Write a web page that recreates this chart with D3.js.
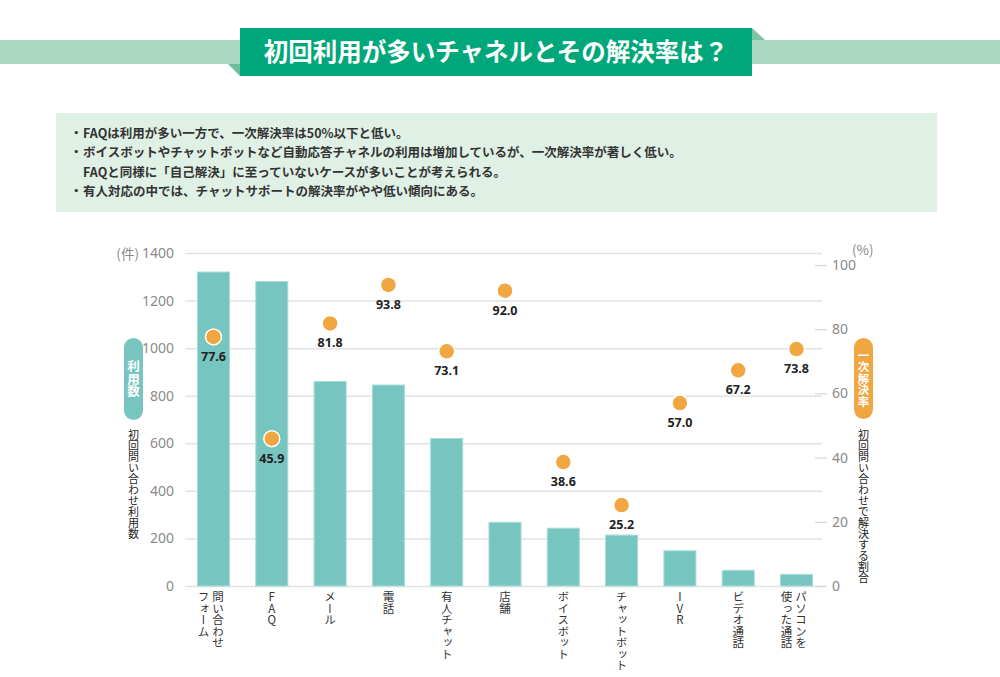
<!DOCTYPE html>
<meta charset="utf-8">
<head>
    <title>初回利用チャネルと解決率</title>
    <script src="https://d3js.org/d3.v7.min.js"></script>
</head>

<style>
body { margin: 0; background: #fff; }
svg { display: block; font-family: "Noto Sans CJK JP", "Noto Sans", sans-serif; }
.tick text { fill: #8a8a8a; font-family: "Noto Sans", sans-serif; font-size: 14px; }
.vtext { writing-mode: vertical-rl; text-orientation: upright; }
</style>

<body>

<svg></svg>

<script>

// data
let categories = ["問い合わせフォーム", "FAQ", "メール", "電話", "有人チャット", "店舗",
                  "ボイスボット", "チャットボット", "IVR", "ビデオ通話", "パソコンを使った通話"];
// x labels, one entry per column (right column first)
let catLabels = [["問い合わせ", "フォーム"], ["FAQ"], ["メール"], ["電話"], ["有人チャット"], ["店舗"],
                 ["ボイスボット"], ["チャットボット"], ["IVR"], ["ビデオ通話"], ["パソコンを", "使った通話"]];
let usage = [1320, 1280, 860, 845, 620, 268, 243, 214, 148, 66, 49];
let solveRate = [77.6, 45.9, 81.8, 93.8, 73.1, 92.0, 38.6, 25.2, 57.0, 67.2, 73.8];
let leftTicks = [0, 200, 400, 600, 800, 1000, 1200, 1400];
let rightTicks = [0, 20, 40, 60, 80, 100];

let title = "初回利用が多いチャネルとその解決率は？";
let notes = [
  ["・", "FAQは利用が多い一方で、一次解決率は50%以下と低い。"],
  ["・", "ボイスボットやチャットボットなど自動応答チャネルの利用は増加しているが、一次解決率が著しく低い。"],
  ["", "FAQと同様に「自己解決」に至っていないケースが多いことが考えられる。"],
  ["・", "有人対応の中では、チャットサポートの解決率がやや低い傾向にある。"]
];

let barColor = "#77c5c0";
let dotColor = "#f0a742";

let width = 1000, height = 677;
let plot = {left: 185, right: 822, top: 253, bottom: 586};

let svg = d3.select("svg")
    .attr("width", width)
    .attr("height", height);

// header ribbon
svg.append("rect")
  .attr("x", 0).attr("y", 40).attr("width", width).attr("height", 24)
  .attr("fill", "#acd8c2");
svg.append("polygon")
  .attr("points", "752,28 765,40 752,40")
  .attr("fill", "#7cc3a2");
svg.append("polygon")
  .attr("points", "228,64 240,76 240,64")
  .attr("fill", "#6fbc98");
svg.append("rect")
  .attr("x", 240).attr("y", 28).attr("width", 512).attr("height", 48)
  .attr("fill", "#00a77a");
svg.append("text")
  .attr("x", 496).attr("y", 61)
  .attr("text-anchor", "middle")
  .attr("fill", "#fff")
  .attr("font-size", 24.5)
  .attr("font-weight", "bold")
  .text(title);

// notes box
svg.append("rect")
  .attr("x", 56).attr("y", 113).attr("width", 881).attr("height", 99)
  .attr("fill", "#dff0e5");

notes.forEach((n, i) => {
  let yy = 137.5 + i * 19.5;
  svg.append("text")
    .attr("x", 70).attr("y", yy)
    .attr("font-size", 12.5).attr("font-weight", "bold").attr("fill", "#333")
    .text(n[0]);
  svg.append("text")
    .attr("x", 83).attr("y", yy)
    .attr("font-size", 12.5).attr("font-weight", "bold").attr("fill", "#333")
    .text(n[1]);
});

// scales
let x = d3.scaleBand()
          .domain(categories)
          .range([184.35, 825.65])
          .paddingInner(0.45)
          .paddingOuter(0.225);

let yL = d3.scaleLinear().domain([0, 1400]).range([plot.bottom, plot.top]);
let yR = d3.scaleLinear().domain([0, 100]).range([plot.bottom, 265]);

// gridlines
let grid = svg.append("g")
  .attr("transform", "translate(" + plot.left + ",0)")
  .call(d3.axisRight(yL).tickValues(leftTicks).tickSize(plot.right - plot.left).tickFormat(""));
grid.select(".domain").remove();
grid.selectAll("line").attr("stroke", "#e2e2e2").attr("stroke-width", 1.5);

// left axis labels
let axL = svg.append("g")
  .attr("transform", "translate(178,0)")
  .call(d3.axisLeft(yL).tickValues(leftTicks).tickSize(0).tickPadding(4).tickFormat(d3.format("d")));
axL.select(".domain").remove();

// right axis
let axR = svg.append("g")
  .attr("transform", "translate(815,0)")
  .call(d3.axisRight(yR).tickValues(rightTicks).tickSize(12).tickPadding(5).tickFormat(d3.format("d")));
axR.select(".domain").remove();
axR.selectAll("line").attr("stroke", "#d6d6d6").attr("stroke-width", 1.2);

// units
svg.append("text")
  .attr("x", 139).attr("y", 259).attr("text-anchor", "end")
  .attr("font-size", 13.5).attr("fill", "#8a8a8a")
  .text("(件)");
svg.append("text")
  .attr("x", 852).attr("y", 255)
  .attr("font-size", 13.5).attr("fill", "#8a8a8a")
  .text("(%)");

// bars
svg.selectAll(".bar")
  .data(usage)
  .enter()
  .append("rect")
  .attr("class", "bar")
  .attr("x", (d, i) => x(categories[i]))
  .attr("y", d => yL(d))
  .attr("width", x.bandwidth())
  .attr("height", d => yL(0) - yL(d))
  .attr("fill", barColor)
  .attr("stroke", "#a9dcd7")
  .attr("stroke-width", 1);

// dots
let cx = i => x(categories[i]) + x.bandwidth() / 2;

svg.selectAll(".dot")
  .data(solveRate)
  .enter()
  .append("circle")
  .attr("class", "dot")
  .attr("cx", (d, i) => cx(i))
  .attr("cy", d => yR(d))
  .attr("r", 8)
  .attr("fill", dotColor)
  .attr("stroke", "#fff")
  .attr("stroke-width", 1.5);

svg.selectAll(".dotLabel")
  .data(solveRate)
  .enter()
  .append("text")
  .attr("class", "dotLabel")
  .attr("x", (d, i) => cx(i))
  .attr("y", d => yR(d) + 24)
  .attr("text-anchor", "middle")
  .attr("font-family", "'Noto Sans', sans-serif")
  .attr("font-size", 12.5)
  .attr("font-weight", "bold")
  .attr("fill", "#222")
  .text(d => d.toFixed(1));

// x labels (vertical)
catLabels.forEach((cols, i) => {
  cols.forEach((t, j) => {
    let off = cols.length == 1 ? 0 : (j == 0 ? 4.5 : -10);
    svg.append("text")
      .attr("class", "vtext")
      .attr("x", cx(i) + off)
      .attr("y", 591)
      .attr("font-size", 11.5)
      .attr("fill", "#333")
      .text(t);
  });
});

// axis title pills
function pill(px, py, h, color, label, fs) {
  svg.append("rect")
    .attr("x", px).attr("y", py).attr("width", 19).attr("height", h)
    .attr("rx", 9.5).attr("ry", 9.5)
    .attr("fill", color);
  svg.append("text")
    .attr("class", "vtext")
    .attr("x", px + 9.5)
    .attr("y", py + h / 2)
    .attr("text-anchor", "middle")
    .attr("font-size", fs)
    .attr("font-weight", "bold")
    .attr("fill", "#fff")
    .text(label);
}

pill(124, 338, 82, barColor, "利用数", 12.5);
pill(854, 338, 81, dotColor, "一次解決率", 11.5);

svg.append("text")
  .attr("class", "vtext")
  .attr("x", 133.5).attr("y", 429)
  .attr("font-size", 11).attr("fill", "#222")
  .text("初回問い合わせ利用数");

svg.append("text")
  .attr("class", "vtext")
  .attr("x", 863.5).attr("y", 429)
  .attr("font-size", 11).attr("fill", "#222")
  .text("初回問い合わせで解決する割合");

</script>

</body>
